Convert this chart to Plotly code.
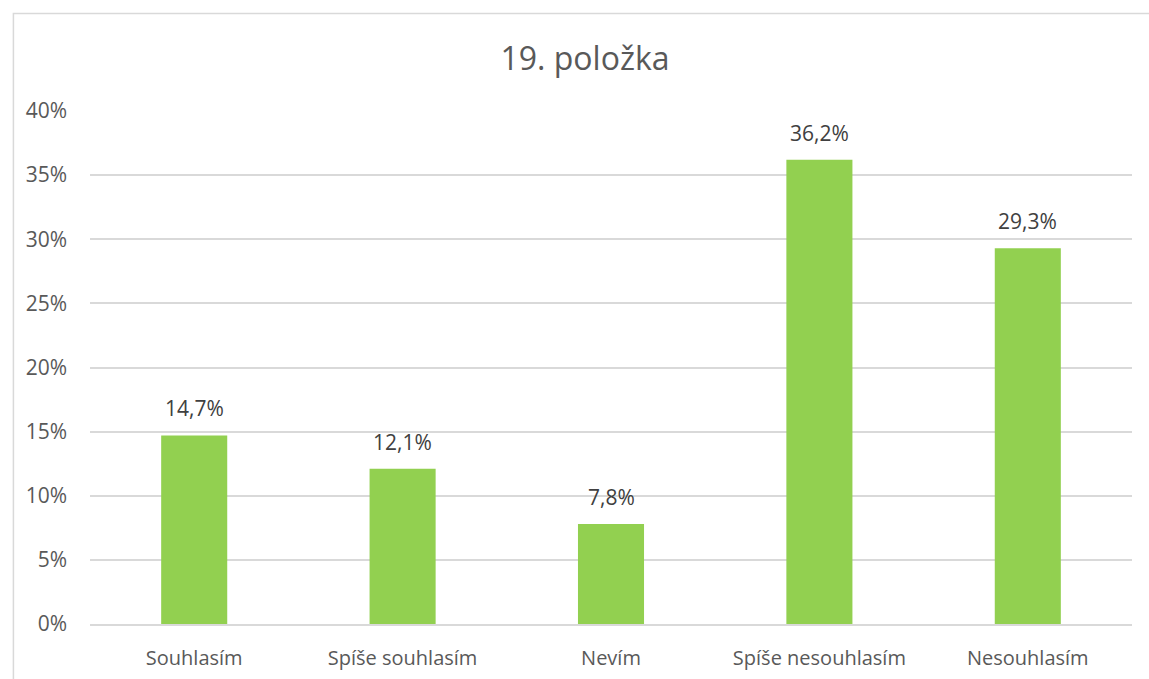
import plotly.graph_objects as go

categories = ["Souhlasím", "Spíše souhlasím", "Nevím", "Spíše nesouhlasím", "Nesouhlasím"]
shares = [0.147, 0.121, 0.078, 0.362, 0.293]
y_ticks = [0, 0.05, 0.10, 0.15, 0.20, 0.25, 0.30, 0.35, 0.40]
title_text = "19. položka"

FONT = "Open Sans, Liberation Sans, sans-serif"
TEXT = "#595959"

fig = go.Figure(
    go.Bar(
        x=categories,
        y=shares,
        marker=dict(color="#92D050", line=dict(width=0)),
        width=0.317,
        hoverinfo="skip",
    )
)

# value labels above each bar, decimal comma
for c, v in zip(categories, shares):
    fig.add_annotation(
        x=c, y=v, xref="x", yref="y",
        text=f"{v * 100:.1f}%".replace(".", ","),
        showarrow=False, yanchor="middle", yshift=27,
        font=dict(family=FONT, size=21, color="#404040"),
    )

# chart outline
fig.add_shape(
    type="rect", xref="paper", yref="paper",
    x0=-0.0735, x1=1.2, y0=-0.2, y1=1.19,
    line=dict(color="#d9d9d9", width=1.5), layer="below",
)

fig.update_layout(
    width=1149, height=679,
    margin=dict(l=90, r=17, t=111, b=55),
    paper_bgcolor="white", plot_bgcolor="white",
    separators=", ",
    showlegend=False,
    title=dict(
        text=title_text, x=585 / 1149, xref="container", xanchor="center",
        y=1 - 59 / 679, yref="container", yanchor="middle",
        font=dict(family=FONT, size=32, color=TEXT),
    ),
    xaxis=dict(
        showgrid=False, showline=True, linecolor="#d9d9d9", linewidth=1.5,
        ticks="", tickfont=dict(family=FONT, size=20, color=TEXT),
        ticklabelstandoff=15, automargin=False,
    ),
    yaxis=dict(
        range=[0, 0.4], tickvals=y_ticks, tickformat=".0%",
        showgrid=True, gridcolor="#d9d9d9", gridwidth=1.5,
        zeroline=False, showline=False, ticks="",
        tickfont=dict(family=FONT, size=21, color=TEXT),
        ticklabelstandoff=22, automargin=False,
    ),
)

fig.write_html("out.html")
